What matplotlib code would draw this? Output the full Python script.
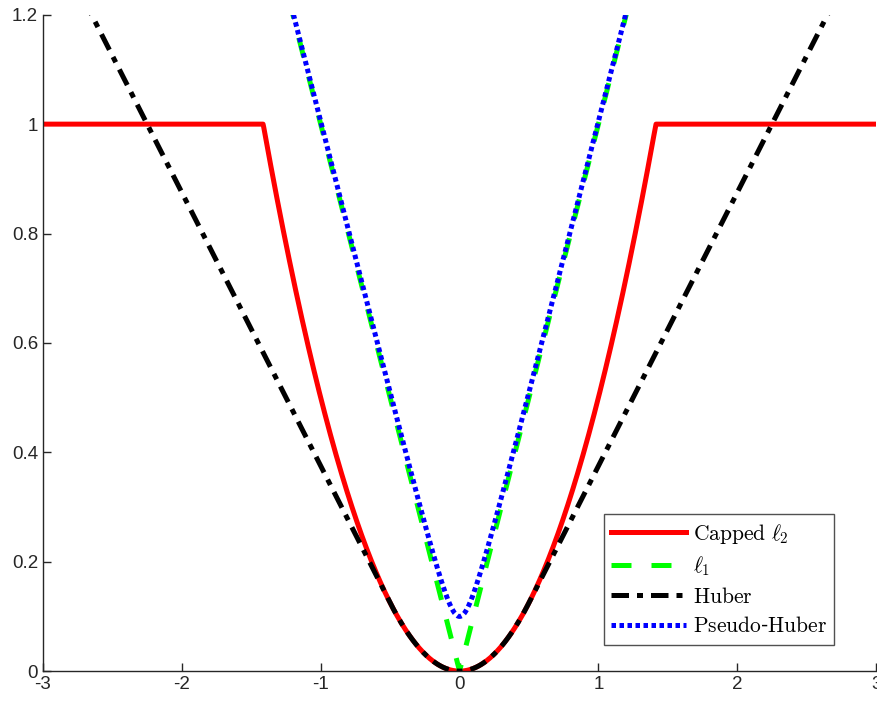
import numpy as np
import matplotlib
matplotlib.use("Agg")
import matplotlib.pyplot as plt

plt.rcParams['font.family'] = ['Liberation Sans', 'DejaVu Sans']
plt.rcParams['mathtext.fontset'] = 'cm'
plt.rcParams['axes.unicode_minus'] = False

# Loss-function parameters
x_range = [-3, 3]
cap_value = 1.0          # capped l2 saturates at 1 (|x| = sqrt(2))
huber_delta = 0.5        # Huber slope 0.5 beyond |x| = 0.5
pseudo_delta = 0.1       # Pseudo-Huber minimum at 0.1

labels = [r'$\mathrm{Capped}\ \ell_2$', r'$\ell_1$', r'$\mathrm{Huber}$', r'$\mathrm{Pseudo}$-$\mathrm{Huber}$']
xticks = [-3, -2, -1, 0, 1, 2, 3]
yticks = [0, 0.2, 0.4, 0.6, 0.8, 1, 1.2]
ytick_labels = ['0', '0.2', '0.4', '0.6', '0.8', '1', '1.2']

x = np.linspace(x_range[0], x_range[1], 1201)
capped = np.minimum(x**2 / 2, cap_value)
l1 = np.abs(x)
huber = np.where(np.abs(x) <= huber_delta, x**2 / 2, huber_delta * (np.abs(x) - huber_delta / 2))
pseudo = np.sqrt(x**2 + pseudo_delta**2)

fig = plt.figure(figsize=(8.77, 7.02), dpi=100)
ax = fig.add_axes([0.049, 0.044, 0.950, 0.935])

ax.plot(x, capped, color='#ff0000', lw=3.6, ls='-', label=labels[0])
ax.plot(x, l1, color='#00ff00', lw=3.6, ls=(0, (4, 4)), label=labels[1])
ax.plot(x, huber, color='#000000', lw=3.6, ls=(0, (3.5, 1.6, 1.2, 1.6)), label=labels[2])
ax.plot(x, pseudo, color='#0000ff', lw=3.6, ls=(0, (0.9, 0.7)), label=labels[3])

ax.set_xlim(-3, 3)
ax.set_ylim(0, 1.2)
ax.set_xticks(xticks)
ax.set_yticks(yticks)
ax.set_yticklabels(ytick_labels)
ax.tick_params(direction='in', length=6, width=1, labelsize=13.5, colors='#262626')
for s in ['top', 'right']:
    ax.spines[s].set_visible(False)
for s in ['left', 'bottom']:
    ax.spines[s].set_color('#262626')
    ax.spines[s].set_linewidth(1)

leg = ax.legend(loc='lower right', bbox_to_anchor=(0.950, 0.04), fontsize=15.5, frameon=True,
                fancybox=False, edgecolor='#262626', handlelength=3.5, handletextpad=0.3,
                borderpad=0.35, labelspacing=0.4, borderaxespad=0)
leg.get_frame().set_linewidth(1)

fig.savefig('out.png', dpi=100)
